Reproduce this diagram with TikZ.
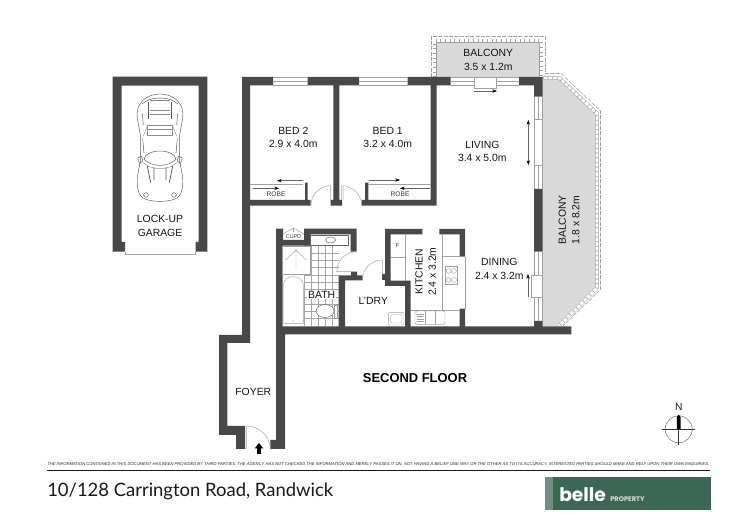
\documentclass[tikz,border=0pt]{standalone}
\usepackage{fontspec}
\usepackage{graphicx}
\setmainfont{Liberation Sans}
\newfontfamily\titlefont{Lato}
\newfontfamily\logofont{Poppins}
\usetikzlibrary{arrows.meta}
\definecolor{wallc}{HTML}{484848}
\definecolor{deckc}{HTML}{D9D9D9}
\definecolor{thinc}{HTML}{A0A0A0}
\definecolor{logoc}{HTML}{3D6755}
\definecolor{logol}{HTML}{6F9080}
\tikzset{
 lbl/.style={inner sep=0,align=center,text=black!92,font=\fontsize{7.8}{10}\selectfont},
 tinylbl/.style={inner sep=0,align=center,text=black!80,font=\fontsize{5}{6}\selectfont},
 fine/.style={draw=thinc,line width=0.35pt},
 finedark/.style={draw=black!60,line width=0.35pt},
 wall/.style={fill=wallc},
 rail/.style={line join=miter},
 tile/.style={draw=black!35,line width=0.3pt},
 carline/.style={draw=black!65,line width=0.35pt,line join=round},
 carlight/.style={draw=black!45,line width=0.3pt},
 arr/.style={draw=black!60,line width=0.3pt,-{Stealth[length=3.5pt,width=2.5pt,black]}}
}
\begin{document}
\begin{tikzpicture}[x=0.75pt,y=-0.75pt]
\useasboundingbox (0,0) rectangle (750,530);
% decks
\fill[deckc] (434,40) -- (542,40) -- (542,77) -- (434,77) -- cycle;
\fill[deckc] (542,77) -- (559.5,77) -- (597,113) -- (597,288) -- (558,326) -- (542,326) -- cycle;
% railings
\foreach \p in {{(434.7,77) -- (434.7,40.7) -- (541.3,40.7) -- (541.3,77)},{(543,78) -- (559.5,78) -- (597,113.5) -- (597,288) -- (559,326)}}{
 \draw[rail,draw=thinc,line width=2.9pt] \p;
 \draw[rail,draw=white,line width=2.2pt] \p;
 \draw[rail,draw=thinc,line width=2.2pt,dash pattern=on 0.5pt off 3pt] \p;
}
\draw[draw=thinc,line width=0.4pt,dash pattern=on 3pt off 1pt] (431,77) -- (431,36.3) -- (545,36.3) -- (545,72);
\draw[draw=thinc,line width=0.4pt,dash pattern=on 3pt off 1pt] (545,73.5) -- (561,73.5) -- (600.5,111) -- (600.5,289.5) -- (563,326);
% garage
\fill[wall] (112.7,76.7) -- (207.3,76.7) -- (207.3,251.7) -- (195.7,251.7) -- (195.7,242) -- (198.5,242) -- (198.5,85.7) -- (121.7,85.7) -- (121.7,242) -- (125,242) -- (125,251.7) -- (112.7,251.7) -- cycle;
\draw[fine] (125,251.7) -- (125,254) -- (195.7,254) -- (195.7,251.7);
% tiles
\foreach \x in {304,311,318,325,332}{\draw[tile] (\x,245.7) -- (\x,326);}
\foreach \k in {0,...,10}{\draw[tile] (304,245.7+7.3*\k) -- (339,245.7+7.3*\k);}
% main walls
\fill[wall]
 (242,77) -- (273,77) -- (273,85.5) -- (250,85.5) -- (250,200) -- (305,200) -- (305,182.7) -- (307.7,182.7) -- (307.7,200) -- (310.7,200) -- (310.7,205.7) -- (250,205.7) -- (250,343) -- (227.3,343) -- (227.3,426) -- (245,426) -- (245,449) -- (236,449) -- (236,435) -- (219,435) -- (219,335) -- (242,335) -- cycle
 (307.7,77) -- (359,77) -- (359,85.5) -- (339.3,85.5) -- (339.3,200) -- (342,200) -- (342,205.7) -- (330.7,205.7) -- (330.7,200) -- (333.3,200) -- (333.3,85.5) -- (307.7,85.5) -- cycle
 (407.7,77) -- (450.7,77) -- (450.7,85.5) -- (436.7,85.5) -- (436.7,205.7) -- (361.7,205.7) -- (361.7,200) -- (365,200) -- (365,182.7) -- (368.3,182.7) -- (368.3,200) -- (430.7,200) -- (430.7,85.5) -- (407.7,85.5) -- cycle
 (519,77) -- (542.7,77) -- (542.7,96.7) -- (534,96.7) -- (534,85.5) -- (519,85.5) -- cycle
 (534,189) -- (542.5,189) -- (542.5,251.7) -- (534,251.7) -- cycle
 (534,321) -- (542.5,321) -- (542.5,326.5) -- (571.3,326.5) -- (571.3,334.3) -- (285,334.3) -- (285,449) -- (270.3,449) -- (270.3,440) -- (276,440) -- (276,326.5) -- (534,326.5) -- cycle
 % bath
 (276,228.7) -- (283,228.7) -- (283,240) -- (304,240) -- (304,228.7) -- (356.7,228.7) -- (356.7,251.7) -- (350.7,251.7) -- (350.7,234.5) -- (310.5,234.5) -- (310.5,245.7) -- (282.7,245.7) -- (282.7,326.5) -- (276,326.5) -- cycle
 % l'dry
 (338.5,275.5) -- (351,275.5) -- (351,272) -- (357,272) -- (357,275.5) -- (362.5,275.5) -- (362.5,280.5) -- (345,280.5) -- (345,326.5) -- (338.5,326.5) -- cycle
 % kitchen
 (385,229) -- (422.3,229) -- (422.3,234.3) -- (390.7,234.3) -- (390.7,280.7) -- (410.7,280.7) -- (410.7,326.5) -- (405,326.5) -- (405,286) -- (385,286) -- (385,280) -- (382,280) -- (382,274) -- (385,274) -- cycle
 (439.3,229) -- (465,229) -- (465,256.7) -- (459.7,256.7) -- (459.7,234.3) -- (439.3,234.3) -- cycle
 (459.7,308.7) -- (465,308.7) -- (465,326.5) -- (459.7,326.5) -- cycle;
% windows
\foreach \a/\b in {273/307.7,359/407.7,450.7/519}{
 \draw[fine] (\a,77.5) -- (\b,77.5) (\a,81) -- (\b,81) (\a,85) -- (\b,85);
}
\foreach \a/\b in {96.7/189,251.7/321}{
 \draw[fine] (534.5,\a) -- (534.5,\b) (538,\a) -- (538,\b) (542,\a) -- (542,\b);
}
\draw[fine] (465,256.7) -- (465,308.7);
% sliding panels
\draw[fine,fill=white] (474,77.3) rectangle (496.3,88.7);
\draw[fine,fill=white] (534,119.3) rectangle (542.3,165.7);
\draw[fine,fill=white] (531.7,275) rectangle (542.2,297.3);
\draw[arr] (474,91) -- (497,91);
\draw[draw=black!60,line width=0.3pt,{Stealth[length=3.5pt,width=2.5pt,black]}-{Stealth[length=3.5pt,width=2.5pt,black]}] (528.3,120) -- (528.3,165);
\draw[arr] (528,297) -- (528,274);
% robes
\draw[fine] (250,184.3) -- (303,184.3);
\draw[arr] (303,180.7) -- (277,180.7);
\draw[arr] (253,188.3) -- (279,188.3);
\draw[fine] (368,184.3) -- (430.7,184.3);
\draw[arr] (369,180) -- (400,180);
\draw[arr] (430,188.3) -- (400,188.3);
% door swings
\draw[fine] (330.7,200) -- (330.7,185.7) (330.7,185.7) arc (270:180:19.7);
\draw[fine] (341.7,200) -- (341.7,185.7) (343.2,200) -- (343.2,185.7) (341.7,185.7) arc (270:360:20);
\draw[fine] (356.7,271.7) -- (336.7,271.7) (356.7,251.7) arc (270:180:20);
\draw[fine] (382.3,275) -- (382.3,260) (382.3,260) arc (270:180:19.7);
\draw[fine] (246.7,449) -- (246.7,426) (246.7,426) arc (270:360:23.6);
% bath fixtures
\draw[finedark,fill=white] (310.7,235) rectangle (348,245.7);
\draw[finedark] (330.7,240) ellipse (5 and 3);
\draw[fine,fill=white] (282.7,246.7) rectangle (310,274.3);
\draw[fine] (296,250) -- (285.5,260) (296,250) -- (306.5,260) (296,250) -- (296,268);
\draw[fine,fill=white] (283.5,323.3) -- (283.5,286) .. controls (283.5,279) and (288,276.7) .. (293.3,276.7) .. controls (298.6,276.7) and (303.3,279) .. (303.3,286) -- (303.3,323.3) -- cycle;
\fill[thinc] (293,321) circle (0.7);
\draw[finedark,fill=white] (325,311) ellipse (9 and 6.5);
\draw[fine,fill=white] (334.3,305) rectangle (337.3,318);
\draw[fine] (283,234) -- (293.5,228) -- (304,234);
\draw[fine] (293.5,228) -- (293.5,232);
% kitchen fixtures
\draw[fine] (405.7,234) -- (405.7,281) (390.7,257.3) -- (405.7,257.3);
\draw[fine] (442.3,234) -- (442.3,310) -- (411,310) (442.3,256.7) -- (459.7,256.7) (442.3,310) -- (459.7,310);
\draw[fine,fill=white] (445,266.7) rectangle (457.7,284.3);
\foreach \x/\y in {448.7/271,454/271,448.7/280,454/280}{\draw[fine] (\x,\y) circle (2.4);}
\draw[fine,rounded corners=1.5pt] (415,311) rectangle (445,324.3);
\draw[fine] (425,311) -- (425,324.3) (435,311) -- (435,324.3);
\foreach \y in {314,316.5,319,321.5}{\draw[fine] (416.5,\y) -- (424,\y);}
\draw[fine,rounded corners=1.5pt] (388.3,312.3) rectangle (404,325);
\draw[fine,rounded corners=1pt] (390.5,314.5) rectangle (402,323);
% car
\begin{scope}[shift={(90,30)},x=0.25pt,y=-0.25pt]
 \draw[carline] (152,320) -- (142,265) .. controls (135,215) and (175,192) .. (210,192) .. controls (245,192) and (285,215) .. (278,265) -- (268,320) -- (268,395) .. controls (285,450) and (280,490) .. (262,503) .. controls (240,518) and (180,518) .. (158,503) .. controls (140,490) and (135,450) .. (152,395) -- cycle;
 \draw[carline] (156,222) .. controls (180,198) and (240,198) .. (264,222);
 \draw[carlight] (181,212) -- (239,212) (181,240) -- (239,240) (181,252) -- (239,252);
 \draw[carline,line width=0.6pt] (175,215) -- (175,268) (245,215) -- (245,268);
 \draw[carline] (157,250) -- (160,285) (263,250) -- (260,285);
 \draw[carlight] (172,287) -- (248,287) -- (248,316) -- (172,316) -- cycle (172,297) -- (248,297);
 \draw[carlight] (172,287) -- (160,318) (248,287) -- (260,318);
 \draw[carline] (158,325) -- (162,370) (262,325) -- (258,370);
 \draw[carline] (162,388) .. controls (165,355) and (255,355) .. (258,388);
 \draw[carline] (162,388) .. controls (185,412) and (235,412) .. (258,388);
 \draw[carlight] (160,398) .. controls (185,422) and (235,422) .. (260,398);
 \draw[carline] (143,383) -- (155,379) -- (158,394) -- (148,400) -- cycle (277,383) -- (265,379) -- (262,394) -- (272,400) -- cycle;
 \draw[carline,line width=0.6pt] (172,408) -- (182,458) (192,412) -- (192,450) (228,412) -- (228,450) (248,408) -- (238,458);
 \draw[carline] (168,495) circle (7) (252,495) circle (7);
\end{scope}
% labels
\node[lbl] (garage) at (160,226) {LOCK-UP\\GARAGE};
\node[lbl] (bedtwo) at (293.3,137.3) {BED 2\\2.9 x 4.0m};
\node[lbl] (bedone) at (387.7,137.3) {BED 1\\3.2 x 4.0m};
\node[lbl] (living) at (482.3,151.5) {LIVING\\3.4 x 5.0m};
\node[lbl] (balcn) at (488.3,60) {BALCONY\\3.5 x 1.2m};
\node[lbl,rotate=90] (balce) at (569,220) {BALCONY\\1.8 x 8.2m};
\node[lbl,rotate=90] (kitch) at (425.7,271.7) {KITCHEN\\2.4 x 3.2m};
\node[lbl] (dining) at (499.3,269) {DINING\\2.4 x 3.2m};
\node[lbl,fill=white,inner sep=0.6pt] (bath) at (321.7,295) {BATH};
\node[lbl] (ldry) at (373.3,300.7) {L'DRY};
\node[lbl] (foyer) at (253.3,392.3) {FOYER};
\node[inner sep=0,text=black,font=\fontsize{9.7}{12}\bfseries\selectfont] (floor) at (415,378) {SECOND FLOOR};
\node[tinylbl] (robea) at (276,194.7) {ROBE};
\node[tinylbl] (robeb) at (400,194.7) {ROBE};
\node[tinylbl,font=\fontsize{4.5}{5}\selectfont] (fridge) at (397.7,245.7) {F};
\node[tinylbl,font=\fontsize{4}{5}\selectfont] (cupd) at (293.5,236.7) {CUPD};
% entry arrow
\fill[black] (259,443) -- (263.3,448.5) -- (260.8,448.5) -- (260.8,454) -- (257.2,454) -- (257.2,448.5) -- (254.7,448.5) -- cycle;
% compass
\draw[draw=black!55,line width=0.4pt] (678.7,429.3) circle (13.5);
\draw[draw=black!80,line width=0.4pt] (662.3,429.3) -- (695,429.3) (678.7,414.7) -- (678.7,445);
\fill[black] (676.8,429.3) -- (676.8,417) -- (678.7,414.7) -- (680.6,417) -- (680.6,429.3) -- cycle;
\node[inner sep=0,text=black!90,font=\fontsize{7.7}{9}\selectfont] (north) at (678.7,407) {N};
% footer
\node[inner sep=0,anchor=west,text=black!85] (legal) at (47,464.5) {\resizebox{496.5pt}{!}{\itshape THE INFORMATION CONTAINED IN THIS DOCUMENT HAS BEEN PROVIDED BY THIRD PARTIES. THE AGENCY HAS NOT CHECKED THE INFORMATION AND MERELY PASSES IT ON, NOT HAVING A BELIEF ONE WAY OR THE OTHER AS TO ITS ACCURACY. INTERESTED PARTIES SHOULD MAKE AND RELY UPON THEIR OWN ENQUIRIES.}};
\draw[black!90,line width=0.75pt] (47,471) -- (709.7,471);
\node[inner sep=0,anchor=west,text=black!90] (addr) at (47,491.5) {\resizebox{214.5pt}{!}{\titlefont\fontsize{14}{16}\selectfont 10/128 Carrington Road, Randwick}};
\fill[logol] (545,477.3) rectangle (552.5,510);
\fill[logoc] (552.5,477.3) rectangle (710.7,510);
\node[inner sep=0,anchor=base west,text=white,font=\logofont\bfseries\fontsize{14}{16}\selectfont] (belle) at (559,502) {belle};
\node[inner sep=0,anchor=base west,text=white!80!logoc,font=\logofont\bfseries\fontsize{5}{6}\selectfont] (prop) at (610,502) {PROPERTY};
\end{tikzpicture}
\end{document}
